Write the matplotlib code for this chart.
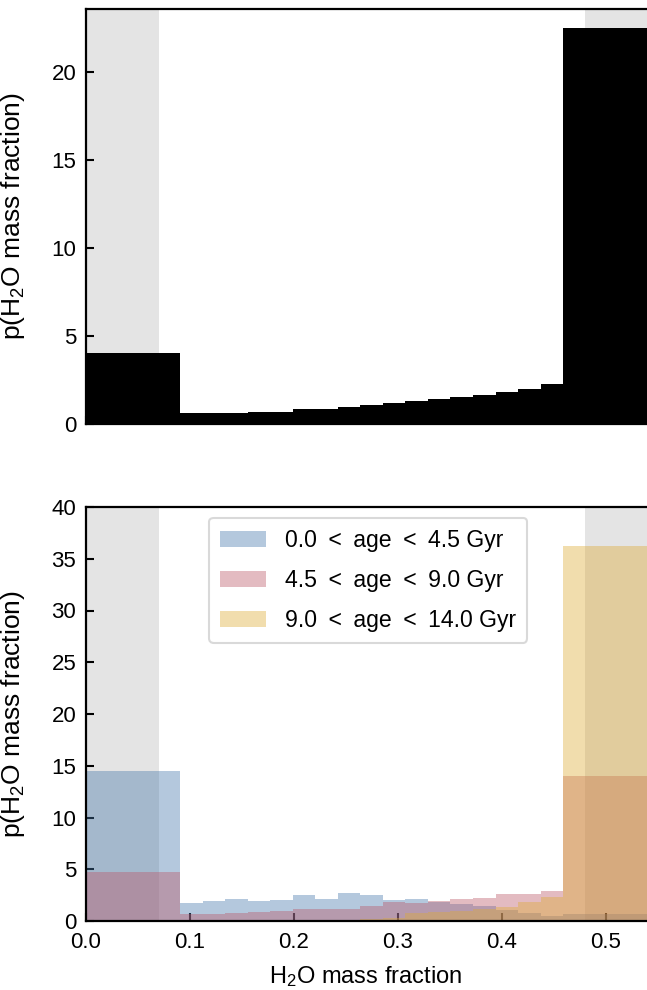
import numpy as np
import matplotlib
matplotlib.use('Agg')
import matplotlib.pyplot as plt

plt.rcParams['font.family'] = ['Liberation Sans', 'DejaVu Sans']
plt.rcParams['mathtext.default'] = 'regular'

# bin edges (first and last bins are wide overflow bins)
bin_edges = [-0.05, 0.0904, 0.1121, 0.1338, 0.1554, 0.1771, 0.1988, 0.2204,
             0.2421, 0.2638, 0.2854, 0.3071, 0.3288, 0.3504, 0.3721, 0.3938,
             0.4154, 0.4371, 0.4587, 0.60]

# top panel: all stars
p_all = [4.01, 0.60, 0.63, 0.63, 0.67, 0.70, 0.85, 0.85, 0.97, 1.08, 1.21,
         1.33, 1.44, 1.55, 1.65, 1.82, 1.99, 2.30, 22.5]

# bottom panel: age bins
age_labels = ['0.0\u2002<\u2002age\u2002<\u20024.5 Gyr',
              '4.5\u2002<\u2002age\u2002<\u20029.0 Gyr',
              '9.0\u2002<\u2002age\u2002<\u200214.0 Gyr']
p_young = [14.5, 1.77, 1.96, 2.09, 1.96, 2.03, 2.51, 2.12, 2.70, 2.51, 2.06,
           2.12, 1.83, 1.67, 1.45, 1.10, 0.80, 0.48, 0.70]
p_mid = [4.75, 0.71, 0.71, 0.80, 0.90, 0.97, 1.19, 1.19, 1.19, 1.48, 1.80,
         1.77, 1.96, 2.12, 2.22, 2.64, 2.64, 2.90, 14.0]
p_old = [0.0, 0.02, 0.02, 0.03, 0.03, 0.05, 0.06, 0.08, 0.12, 0.20, 0.32,
         0.80, 0.90, 0.97, 1.16, 1.35, 1.87, 2.35, 36.2]
age_colors = ['#4477AA', '#BB5566', '#DDAA33']

# excluded regions
shade_lo = (0.0, 0.07)
shade_hi = (0.48, 0.60)

centers = [(a + b) / 2 for a, b in zip(bin_edges[:-1], bin_edges[1:])]

fig = plt.figure(figsize=(6.47, 9.90), dpi=100)
W, H = 647, 990
left = 86 / W
width = (658 - 86) / W
ax1 = fig.add_axes([left, 1 - 424 / H, width, (424 - 8.5) / H])
ax2 = fig.add_axes([left, 1 - 921 / H, width, (921 - 507) / H])

for ax in (ax1, ax2):
    ax.axvspan(*shade_lo, color='0.894', lw=0, zorder=0)
    ax.axvspan(*shade_hi, color='0.894', lw=0, zorder=0)

ax1.hist(centers, bins=bin_edges, weights=p_all, color='black', zorder=2)
for vals, c, lab in zip([p_young, p_mid, p_old], age_colors, age_labels):
    ax2.hist(centers, bins=bin_edges, weights=vals, color=c, alpha=0.4,
             label=lab, zorder=2)

for ax in (ax1, ax2):
    ax.set_xlim(0, 0.55)
    ax.tick_params(direction='in', length=6, width=1.5, labelsize=16,
                   top=False, right=True, pad=7)
    for s in ax.spines.values():
        s.set_linewidth(1.6)
    ax.set_ylabel('p(H$_2$O mass fraction)', fontsize=19)
    ax.yaxis.set_label_coords(-0.103, 0.5)
    ax.set_xticks([0.0, 0.1, 0.2, 0.3, 0.4, 0.5])

ax1.set_yticks([0, 5, 10, 15, 20])
ax1.tick_params(labelbottom=False)
ax2.set_ylim(0, 40)
ax2.set_yticks([0, 5, 10, 15, 20, 25, 30, 35, 40])
ax2.set_xticklabels(['0.0', '0.1', '0.2', '0.3', '0.4', '0.5'])
ax2.tick_params(axis='x', pad=8)
ax2.set_xlabel('H$_2$O mass fraction', fontsize=17)
ax2.xaxis.set_label_coords(0.488, -0.105)

leg = ax2.legend(loc='upper left', bbox_to_anchor=(0.215, 0.974), fontsize=16.6,
                 frameon=True, fancybox=True, framealpha=1, edgecolor='0.85',
                 handlelength=2.0, handleheight=0.7, labelspacing=0.74,
                 borderpad=0.48, handletextpad=0.82, borderaxespad=0)
leg.get_frame().set_linewidth(1.5)

fig.savefig('out.png', dpi=100)
